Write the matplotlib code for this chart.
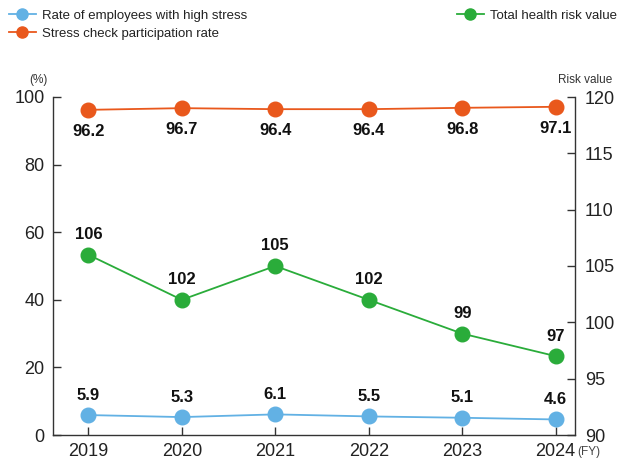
import matplotlib
matplotlib.use("Agg")
import matplotlib.pyplot as plt
from matplotlib.lines import Line2D

plt.rcParams['font.family'] = ['Liberation Sans', 'DejaVu Sans']

years = ["2019", "2020", "2021", "2022", "2023", "2024"]
high_stress = [5.9, 5.3, 6.1, 5.5, 5.1, 4.6]
participation = [96.2, 96.7, 96.4, 96.4, 96.8, 97.1]
risk_value = [106, 102, 105, 102, 99, 97]

left_ticks = [0, 20, 40, 60, 80, 100]
right_ticks = [90, 95, 100, 105, 110, 115, 120]

BLUE = "#62b1e4"
ORANGE = "#e9581c"
GREEN = "#2aac3a"
AXIS = "#333333"

fig = plt.figure(figsize=(6.24, 4.70), dpi=100)
ax = fig.add_axes([53/624, 35/470, (575-53)/624, (435-97)/470])
ax2 = ax.twinx()

x = list(range(len(years)))
ms = 10.5
lw = 1.3

ax.plot(x, participation, color=ORANGE, lw=lw, marker="o", ms=ms, zorder=3, clip_on=False)
ax.plot(x, high_stress, color=BLUE, lw=lw, marker="o", ms=ms, zorder=3, clip_on=False)
ax2.plot(x, risk_value, color=GREEN, lw=lw, marker="o", ms=ms, zorder=3, clip_on=False)

lab_kw = dict(ha="center", fontsize=12, fontweight="bold", color="#111111")
for xi, v in zip(x, participation):
    ax.annotate(f"{v:.1f}", (xi, v), xytext=(0, -10), textcoords="offset points", va="top", **lab_kw)
for xi, v in zip(x, high_stress):
    ax.annotate(f"{v:.1f}", (xi, v), xytext=(0, 9), textcoords="offset points", va="bottom", **lab_kw)
for xi, v in zip(x, risk_value):
    ax2.annotate(f"{v}", (xi, v), xytext=(0, 9), textcoords="offset points", va="bottom", **lab_kw)

ax.set_xlim(-0.378, 5.207)
ax.set_ylim(0, 100)
ax2.set_ylim(90, 120)
ax.set_xticks(x)
ax.set_xticklabels(years)
ax.set_yticks(left_ticks)
ax2.set_yticks(right_ticks)

for a in (ax, ax2):
    a.spines["top"].set_visible(False)
    for s in a.spines.values():
        s.set_color(AXIS)
        s.set_linewidth(1.0)
ax.spines["right"].set_visible(False)
ax2.spines["left"].set_visible(False)
ax2.spines["bottom"].set_visible(False)

ax.tick_params(axis="both", direction="in", length=6, width=1.0, color=AXIS,
               labelsize=13, labelcolor="#222222")
ax.tick_params(axis="x", pad=6)
ax.tick_params(axis="y", pad=6)
ax2.tick_params(axis="y", direction="in", length=6, width=1.0, color=AXIS,
                labelsize=13, labelcolor="#222222", pad=7)

fig.text(38/624, 1 - 80/470, "(%)", fontsize=8.5, color="#333333", ha="center", va="center")
fig.text(585/624, 1 - 80/470, "Risk value", fontsize=8.5, color="#333333", ha="center", va="center")
fig.text(589/624, 1 - 452/470, "(FY)", fontsize=8.5, color="#444444", ha="center", va="center")

def handle(c):
    return Line2D([], [], color=c, lw=lw, marker="o", ms=8)

leg1 = fig.legend([handle(BLUE), handle(ORANGE)],
                  ["Rate of employees with high stress", "Stress check participation rate"],
                  loc="upper left", bbox_to_anchor=(4/624, 1 - 4/470), frameon=False,
                  fontsize=9.5, handlelength=2.0, handletextpad=0.5, labelspacing=0.45,
                  borderaxespad=0, labelcolor="#222222")
leg2 = fig.legend([handle(GREEN)], ["Total health risk value"],
                  loc="upper left", bbox_to_anchor=(452/624, 1 - 4/470), frameon=False,
                  fontsize=9.5, handlelength=2.0, handletextpad=0.5,
                  borderaxespad=0, labelcolor="#222222")

fig.savefig("out.png", dpi=100)
